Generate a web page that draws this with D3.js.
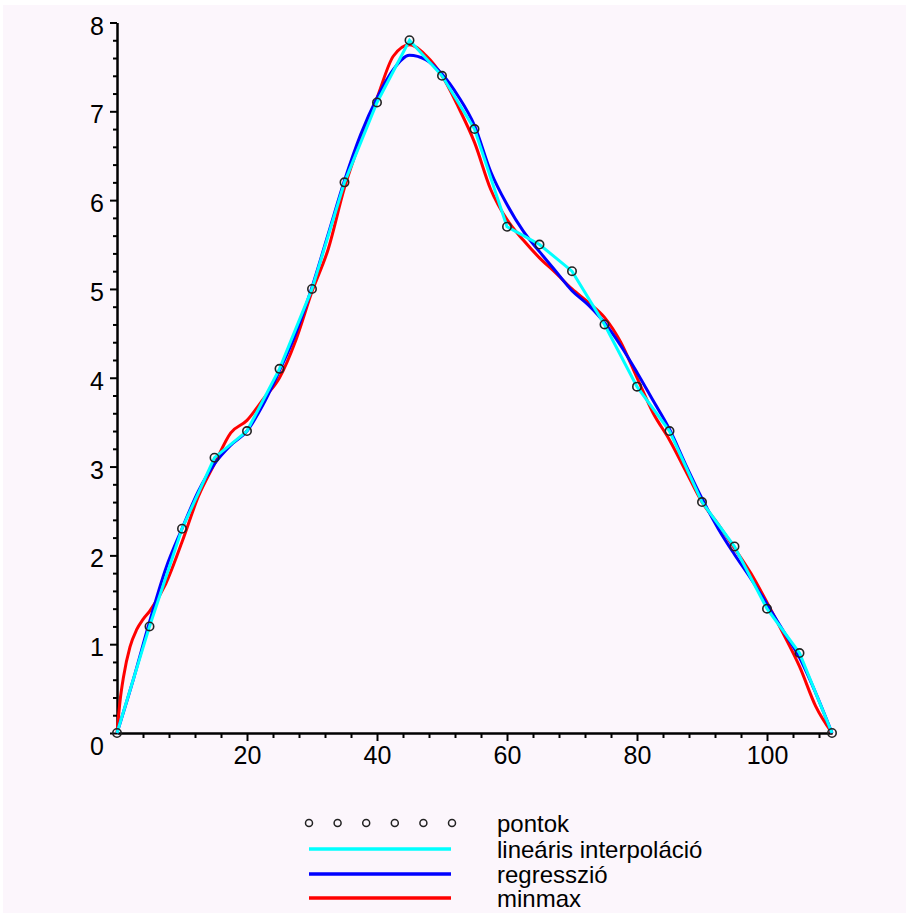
<!DOCTYPE html>
<html>
<head>
<meta charset="utf-8">
<script src="https://cdn.jsdelivr.net/npm/d3@7"></script>
<style>
  body { margin: 0; background: #fff; }
  svg text { font-family: "Liberation Sans", Arial, sans-serif; font-size: 25px; fill: #000; }
  svg text.leg { font-size: 24px; }
  .axis path, .axis line { stroke: #000; stroke-width: 2; }
</style>
</head>
<body>
<div id="svg-container"></div>
<script>
// pontok - the measured points
var pontX = [0, 5, 10, 15, 20, 25, 30, 35, 40, 45, 50, 55, 60, 65, 70, 75, 80, 85, 90, 95, 100, 105, 110];
var pontY = [0, 1.2, 2.3, 3.1, 3.4, 4.1, 5.0, 6.2, 7.1, 7.8, 7.4, 6.8, 5.7, 5.5, 5.2, 4.6, 3.9, 3.4, 2.6, 2.1, 1.4, 0.9, 0];

// regresszio curve
var regX = [0, 2.5, 5, 7.5, 10, 12.5, 15, 17.5, 20, 22.5, 25, 27.5, 30, 32.5, 35, 37.5, 40, 42.5, 45, 47.5, 50,
            52.5, 55, 57.5, 60, 62.5, 65, 67.5, 70, 72.5, 75, 77.5, 80, 82.5, 85, 87.5, 90, 92.5, 95, 97.5, 100, 102.5, 105, 107.5, 110];
var regY = [0, 0.6, 1.25, 1.85, 2.3, 2.72, 3.03, 3.24, 3.4, 3.7, 4.08, 4.5, 5.02, 5.62, 6.22, 6.74, 7.15, 7.47, 7.63, 7.58, 7.42,
            7.17, 6.84, 6.32, 5.95, 5.65, 5.42, 5.2, 4.98, 4.82, 4.62, 4.36, 4.06, 3.74, 3.42, 3.02, 2.64, 2.3, 2.01, 1.74, 1.45, 1.15, 0.85, 0.45, 0];

// minmax curve
var mmX = [0, 0.5, 1, 2, 3, 4, 5, 7.5, 10, 12.5, 15, 17.5, 20, 22.5, 25, 27.5, 30, 32.5, 35, 37.5, 40, 42.5, 45, 47.5, 50,
           52.5, 55, 57.5, 60, 62.5, 65, 67.5, 70, 72.5, 75, 77.5, 80, 82.5, 85, 87.5, 90, 92.5, 95, 97.5, 100, 102.5, 105, 107.5, 110];
var mmY = [0, 0.38, 0.63, 0.97, 1.16, 1.28, 1.37, 1.68, 2.15, 2.66, 3.03, 3.38, 3.52, 3.76, 4.0, 4.42, 4.97, 5.45, 6.14, 6.68, 7.15, 7.62, 7.75, 7.63, 7.4,
           7.05, 6.65, 6.12, 5.78, 5.55, 5.35, 5.18, 5.0, 4.85, 4.68, 4.4, 4.0, 3.6, 3.3, 2.95, 2.6, 2.35, 2.08, 1.8, 1.47, 1.12, 0.75, 0.3, 0];

var xTicks = [20, 40, 60, 80, 100];
var yTicks = [0, 1, 2, 3, 4, 5, 6, 7, 8];
var legendLabels = ["pontok", "lineáris interpoláció", "regresszió", "minmax"];

var width = 906;
var height = 913;

var svg = d3.select("#svg-container")
    .append("svg")
    .attr("width", width)
    .attr("height", height);

// pinkish plot background, a thin white strip on top
svg.append("rect")
    .attr("x", 3)
    .attr("y", 5)
    .attr("width", width - 3)
    .attr("height", height - 5)
    .attr("fill", "#fcf6fc");

var x = d3.scaleLinear().domain([0, 110]).range([117, 832]);
var y = d3.scaleLinear().domain([0, 8]).range([733, 22.5]);

// minor ticks first
var xMinor = [];
for (var i = 4; i < 110; i += 4) if (i % 20 != 0) xMinor.push(i);
var yMinor = [];
for (var j = 0; j < 40; j++) if (j % 5 != 0) yMinor.push(j / 5);

svg.append("g")
    .attr("class", "axis")
    .attr("transform", "translate(0," + y(0) + ")")
    .call(d3.axisBottom(x).tickValues(xMinor).tickSize(5).tickSizeOuter(0).tickFormat(""));

svg.append("g")
    .attr("class", "axis")
    .attr("transform", "translate(" + x(0) + ",0)")
    .call(d3.axisLeft(y).tickValues(yMinor).tickSize(4).tickSizeOuter(0).tickFormat(""));

var gX = svg.append("g")
    .attr("class", "axis")
    .attr("transform", "translate(0," + y(0) + ")")
    .call(d3.axisBottom(x).tickValues(xTicks).tickSize(8).tickPadding(5).tickSizeOuter(0));

var gY = svg.append("g")
    .attr("class", "axis")
    .attr("transform", "translate(" + x(0) + ",0)")
    .call(d3.axisLeft(y).tickValues(yTicks).tickSize(7).tickPadding(6).tickSizeOuter(0));

svg.selectAll(".axis text").attr("font-size", null).attr("font-family", null);
gY.selectAll("text").attr("dy", "0.46em");
// Maple drops the 0 label below the x axis
gY.selectAll(".tick").filter(function(d) { return d === 0; }).select("text").attr("dy", "0.84em");

var line = d3.line()
    .x(function(d) { return x(d[0]); })
    .y(function(d) { return y(d[1]); });

var smooth = d3.line()
    .x(function(d) { return x(d[0]); })
    .y(function(d) { return y(d[1]); })
    .curve(d3.curveMonotoneX);

svg.append("path")
    .datum(d3.zip(mmX, mmY))
    .attr("d", smooth)
    .attr("fill", "none")
    .attr("stroke", "#ff0000")
    .attr("stroke-width", 3);

svg.append("path")
    .datum(d3.zip(regX, regY))
    .attr("d", smooth)
    .attr("fill", "none")
    .attr("stroke", "#0000ff")
    .attr("stroke-width", 3);

svg.append("path")
    .datum(d3.zip(pontX, pontY))
    .attr("d", line)
    .attr("fill", "none")
    .attr("stroke", "#00ffff")
    .attr("stroke-width", 3);

svg.selectAll("circle.pont")
    .data(d3.zip(pontX, pontY)).enter()
    .append("circle")
    .attr("class", "pont")
    .attr("cx", function(d) { return x(d[0]); })
    .attr("cy", function(d) { return y(d[1]); })
    .attr("r", 4.2)
    .attr("fill", "none")
    .attr("stroke", "#222")
    .attr("stroke-width", 1.6);

// legend
var legX0 = 309, legX1 = 451, legTextX = 497;
var legRowY = [823, 849, 874, 898];
var legColors = [null, "#00ffff", "#0000ff", "#ff0000"];

var leg = svg.append("g");
legendLabels.forEach(function(label, k) {
    if (k === 0) {
        for (var m = 0; m < 6; m++) {
            leg.append("circle")
                .attr("cx", legX0 + m * (legX1 - legX0 + 1) / 5)
                .attr("cy", legRowY[k])
                .attr("r", 3.5)
                .attr("fill", "none")
                .attr("stroke", "#222")
                .attr("stroke-width", 1.5);
        }
    } else {
        leg.append("line")
            .attr("x1", legX0).attr("x2", legX1)
            .attr("y1", legRowY[k]).attr("y2", legRowY[k])
            .attr("stroke", legColors[k])
            .attr("stroke-width", 3.5);
    }
    leg.append("text")
        .attr("class", "leg")
        .attr("x", legTextX)
        .attr("y", legRowY[k] + 9)
        .text(label);
});
</script>
</body>
</html>
